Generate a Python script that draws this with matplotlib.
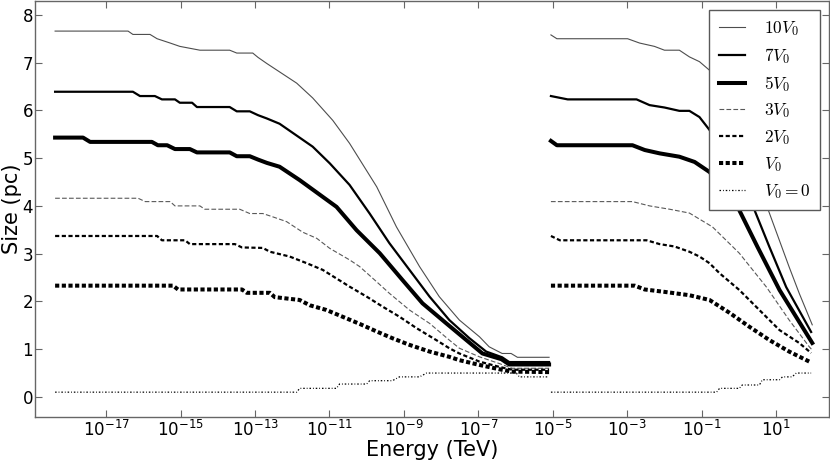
import numpy as np
import matplotlib
matplotlib.use('Agg')
import matplotlib.pyplot as plt
from matplotlib.ticker import FixedLocator, NullLocator, FuncFormatter

plt.rcParams['lines.scale_dashes'] = False
plt.rcParams['font.family'] = ['DejaVu Sans']

labels = [r'$10V_0$', r'$7V_0$', r'$5V_0$', r'$3V_0$', r'$2V_0$', r'$V_0$', r'$V_0 =0$']

# ---- low-energy group: log10(E/TeV) and size (pc) ----
lo_x_10 = [-18.37, -16.41, -16.28, -15.82, -15.63, -15.28, -15.02, -14.48, -13.68, -13.49, -13.06, -12.92,
           -12.68, -11.88, -11.45, -10.91, -10.46, -9.73, -9.20, -8.58, -8.05, -7.51, -6.97, -6.71, -6.36,
           -6.12, -5.95, -5.10]
lo_y_10 = [7.66, 7.66, 7.59, 7.59, 7.50, 7.41, 7.34, 7.26, 7.26, 7.20, 7.20, 7.11,
           6.98, 6.57, 6.26, 5.79, 5.31, 4.40, 3.56, 2.73, 2.10, 1.61, 1.26, 1.05, 0.91,
           0.91, 0.83, 0.83]

lo_x_7 = [-18.37, -16.28, -16.09, -15.69, -15.50, -15.15, -15.02, -14.69, -14.56, -13.68, -13.49, -13.14,
          -12.92, -12.68, -12.34, -11.45, -10.99, -10.46, -9.92, -9.39, -8.85, -8.31, -7.78, -7.24,
          -6.79, -6.36, -6.17, -5.10]
lo_y_7 = [6.39, 6.39, 6.30, 6.30, 6.23, 6.23, 6.16, 6.16, 6.07, 6.07, 5.98, 5.98,
          5.90, 5.83, 5.72, 5.24, 4.89, 4.44, 3.84, 3.22, 2.66, 2.10, 1.61, 1.23,
          0.95, 0.83, 0.73, 0.73]

lo_x_5 = [-18.37, -17.62, -17.43, -15.77, -15.61, -15.36, -15.15, -14.75, -14.56, -13.68, -13.49, -13.14,
          -12.92, -12.68, -12.34, -11.80, -10.81, -10.27, -9.65, -9.04, -8.50, -7.86, -6.89, -6.38,
          -6.17, -5.10]
lo_y_5 = [5.43, 5.43, 5.34, 5.34, 5.27, 5.27, 5.19, 5.19, 5.12, 5.12, 5.04, 5.04,
          4.97, 4.90, 4.82, 4.54, 3.98, 3.49, 3.01, 2.45, 1.96, 1.54, 0.91, 0.79,
          0.68, 0.68]

lo_x_3 = [-18.37, -16.14, -15.95, -15.28, -15.15, -14.48, -14.35, -13.41, -13.14, -12.79, -12.52, -12.15,
          -11.72, -11.34, -10.99, -10.46, -10.19, -9.73, -9.39, -8.85, -8.31, -7.78, -7.51, -6.97,
          -6.44, -6.09, -5.10]
lo_y_3 = [4.16, 4.16, 4.09, 4.09, 4.00, 4.00, 3.93, 3.93, 3.84, 3.84, 3.77, 3.67,
          3.45, 3.32, 3.11, 2.87, 2.73, 2.41, 2.17, 1.82, 1.54, 1.19, 1.02, 0.84,
          0.70, 0.60, 0.60]

lo_x_2 = [-18.37, -15.63, -15.50, -14.88, -14.75, -13.54, -13.35, -12.79, -12.60, -12.07, -11.61, -11.18,
          -10.81, -10.46, -10.00, -9.57, -9.12, -8.66, -8.13, -7.78, -7.51, -6.97, -6.44, -6.09, -5.10]
lo_y_2 = [3.37, 3.37, 3.28, 3.28, 3.20, 3.20, 3.13, 3.12, 3.04, 2.94, 2.80, 2.66,
          2.48, 2.31, 2.10, 1.89, 1.68, 1.44, 1.19, 1.02, 0.91, 0.74, 0.63, 0.57, 0.57]

lo_x_1 = [-18.37, -15.20, -15.07, -13.35, -13.22, -12.60, -12.47, -11.80, -11.53, -11.08, -10.65, -10.19,
          -9.73, -9.31, -8.85, -8.31, -7.78, -7.51, -6.97, -6.44, -6.09, -5.10]
lo_y_1 = [2.33, 2.33, 2.25, 2.25, 2.18, 2.18, 2.09, 2.03, 1.92, 1.82, 1.68, 1.53,
          1.37, 1.23, 1.09, 0.95, 0.84, 0.77, 0.67, 0.58, 0.53, 0.52]

lo_x_0 = [-18.37, -11.88, -11.80, -10.81, -10.73, -10.00, -9.92, -9.31, -9.12, -8.58, -8.39, -5.98, -5.90, -5.10]
lo_y_0 = [0.10, 0.10, 0.18, 0.18, 0.27, 0.27, 0.34, 0.34, 0.42, 0.42, 0.50, 0.50, 0.42, 0.42]

# ---- high-energy group ----
hi_x_10 = [-5.05, -4.89, -2.99, -2.67, -2.27, -2.00, -1.60, -1.33, -1.06, -0.79, -0.25, 0.28, 0.79, 1.35, 1.62, 1.97]
hi_y_10 = [7.58, 7.50, 7.50, 7.41, 7.34, 7.26, 7.26, 7.12, 7.02, 6.84, 6.20, 5.10, 3.91, 2.72, 2.17, 1.51]

hi_x_7 = [-5.05, -4.60, -2.75, -2.40, -2.00, -1.60, -1.33, -1.06, -0.79, -0.25, 0.42, 0.82, 1.27, 1.94]
hi_y_7 = [6.30, 6.23, 6.23, 6.11, 6.06, 5.99, 5.99, 5.86, 5.59, 4.85, 3.91, 3.14, 2.30, 1.36]

hi_x_5 = [-5.05, -4.89, -2.86, -2.53, -2.13, -1.60, -1.19, -0.79, -0.39, 0.01, 0.50, 1.09, 1.97]
hi_y_5 = [5.36, 5.27, 5.27, 5.17, 5.10, 5.03, 4.92, 4.71, 4.35, 3.91, 3.14, 2.24, 1.13]

hi_x_3 = [-5.05, -2.86, -2.40, -1.86, -1.33, -0.71, 0.01, 0.74, 1.35, 1.89, 1.97]
hi_y_3 = [4.09, 4.09, 4.00, 3.93, 3.85, 3.56, 3.01, 2.30, 1.61, 1.05, 0.98]

hi_x_2 = [-5.05, -4.81, -2.48, -2.13, -1.73, -1.33, -1.06, -0.79, -0.52, 0.01, 0.55, 1.09, 1.62, 1.94]
hi_y_2 = [3.37, 3.28, 3.28, 3.20, 3.15, 3.04, 2.94, 2.80, 2.59, 2.24, 1.82, 1.40, 1.13, 0.92]

hi_x_1 = [-5.05, -2.80, -2.53, -2.00, -1.33, -0.79, -0.25, 0.28, 0.82, 1.35, 1.89]
hi_y_1 = [2.33, 2.33, 2.25, 2.20, 2.13, 2.03, 1.76, 1.47, 1.19, 0.95, 0.74]

hi_x_0 = [-5.05, -0.60, -0.52, 0.01, 0.09, 0.55, 0.63, 1.09, 1.17, 1.43, 1.54, 1.94]
hi_y_0 = [0.10, 0.10, 0.18, 0.18, 0.25, 0.25, 0.36, 0.36, 0.42, 0.42, 0.50, 0.50]

lo_x = [lo_x_10, lo_x_7, lo_x_5, lo_x_3, lo_x_2, lo_x_1, lo_x_0]
lo_y = [lo_y_10, lo_y_7, lo_y_5, lo_y_3, lo_y_2, lo_y_1, lo_y_0]
hi_x = [hi_x_10, hi_x_7, hi_x_5, hi_x_3, hi_x_2, hi_x_1, hi_x_0]
hi_y = [hi_y_10, hi_y_7, hi_y_5, hi_y_3, hi_y_2, hi_y_1, hi_y_0]

xtick_exps = [-17, -15, -13, -11, -9, -7, -5, -3, -1, 1]
ytick_vals = [0, 1, 2, 3, 4, 5, 6, 7, 8]

styles = [
    dict(color='0.3', lw=0.8, ls='-'),
    dict(color='k', lw=1.6, ls='-'),
    dict(color='k', lw=2.9, ls='-'),
    dict(color='0.35', lw=0.8, ls=(0, (3.4, 1.6))),
    dict(color='k', lw=1.6, ls=(0, (3.0, 1.8))),
    dict(color='k', lw=2.9, ls=(0, (3.0, 1.8))),
    dict(color='k', lw=0.9, ls=(0, (1.1, 1.4, 0.6, 1.4))),
]

fig = plt.figure(figsize=(8.3, 4.63), dpi=100)
ax = fig.add_axes([35 / 830, 46 / 463, 794 / 830, 416 / 463])

for i in range(len(labels)):
    ax.plot(10.0 ** np.array(lo_x[i]), lo_y[i], label=labels[i], **styles[i])
    ax.plot(10.0 ** np.array(hi_x[i]), hi_y[i], **styles[i])

ax.set_xscale('log')
ax.set_xlim(10 ** -18.91, 10 ** 2.42)
ax.set_ylim(-0.42, 8.29)
ax.xaxis.set_major_locator(FixedLocator([10.0 ** e for e in xtick_exps]))
ax.xaxis.set_minor_locator(NullLocator())
ax.xaxis.set_major_formatter(FuncFormatter(
    lambda v, p: r'$\mathdefault{10^{%d}}$' % int(round(np.log10(v)))))
ax.set_yticks(ytick_vals)

spine_col = '0.4'
for s in ax.spines.values():
    s.set_color(spine_col)
    s.set_linewidth(1.0)
ax.tick_params(which='both', direction='in', top=True, right=True, length=5,
               width=0.8, color=spine_col, labelsize=12)
ax.tick_params(axis='x', pad=2)
ax.tick_params(axis='y', pad=1.5)

ax.set_xlabel('Energy (TeV)', fontsize=15)
ax.set_ylabel('Size (pc)', fontsize=15)
ax.xaxis.set_label_coords(0.5, -0.056)
ax.yaxis.set_label_coords(-0.017, 0.5)

leg = ax.legend(loc='upper right', prop=dict(size=12.5, math_fontfamily='cm'),
                fancybox=False, framealpha=1, edgecolor='0.35',
                handlelength=1.5, handletextpad=1.1, labelspacing=0.45,
                borderpad=0.55, borderaxespad=0.5)
leg.get_frame().set_linewidth(1.0)

fig.savefig('out.png', dpi=100)
